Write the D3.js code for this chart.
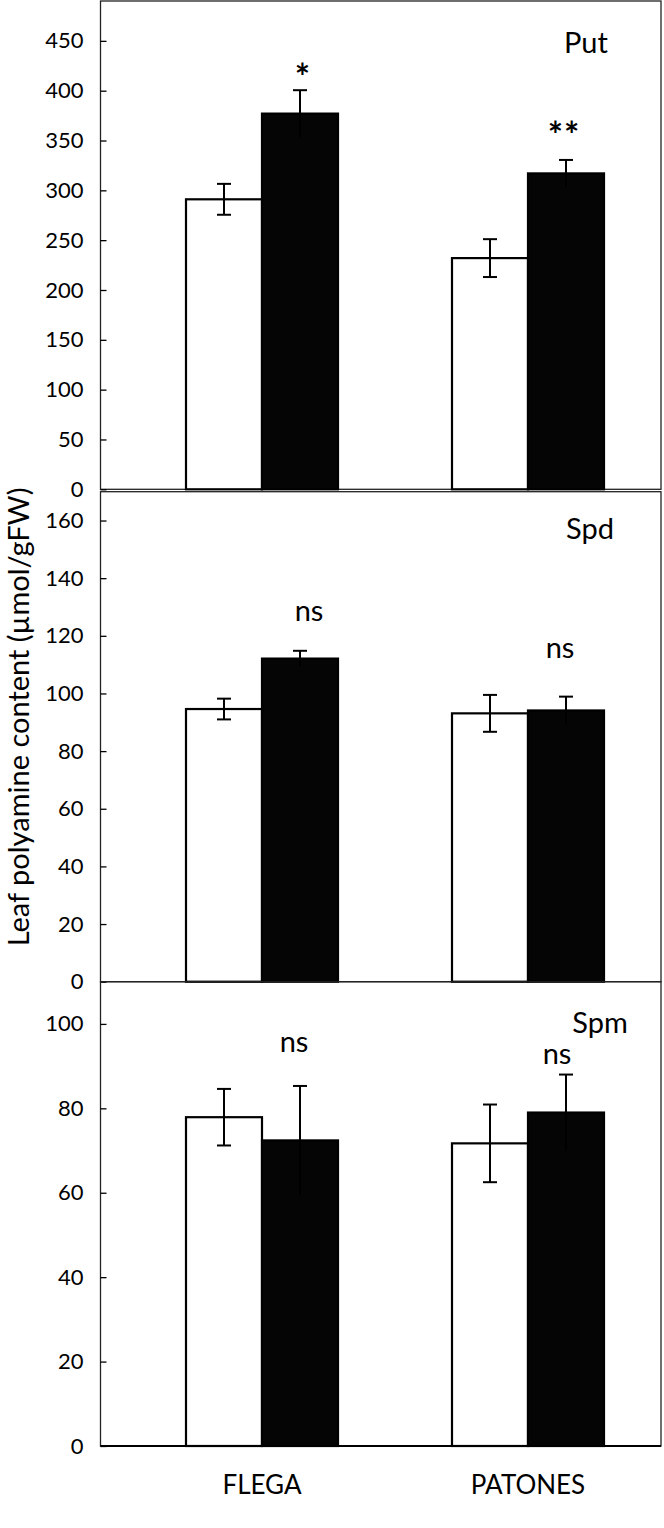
<!DOCTYPE html>
<html>
<head>
<meta charset="utf-8">
<script src="https://cdn.jsdelivr.net/npm/d3@7"></script>
<style>
  body { margin: 0; background: #fff; }
  text { font-family: Lato, "Open Sans", sans-serif; fill: #000; }
</style>
</head>
<body>
<div id="chart"></div>
<script>
// data
var categories = ['FLEGA', 'PATONES'];
var treatments = ['control', 'treated'];

var putControl = [291, 232];
var putControlErr = [15.5, 19];
var putTreated = [377, 317];
var putTreatedErr = [23.5, 13.5];
var putSig = ['*', '**'];
var putTicks = [0, 50, 100, 150, 200, 250, 300, 350, 400, 450];

var spdControl = [94.6, 93.1];
var spdControlErr = [3.6, 6.4];
var spdTreated = [112.1, 94.1];
var spdTreatedErr = [2.7, 4.8];
var spdSig = ['ns', 'ns'];
var spdTicks = [0, 20, 40, 60, 80, 100, 120, 140, 160];

var spmControl = [77.9, 71.7];
var spmControlErr = [6.7, 9.2];
var spmTreated = [72.4, 79.0];
var spmTreatedErr = [12.9, 9.0];
var spmSig = ['ns', 'ns'];
var spmTicks = [0, 20, 40, 60, 80, 100];

var yLabel = 'Leaf polyamine content (\u00b5mol/gFW)';

// layout
var width = 664, height = 1528;
var left = 100.5, right = 661;

var panels = [
	{name: 'Put', top: 1, bottom: 489.3, max: 490, ticks: putTicks,
	 control: putControl, controlErr: putControlErr, treated: putTreated, treatedErr: putTreatedErr,
	 sig: putSig, sigGap: [0, 12], sigDx: [3, -2], nameX: 586, nameY: 53},
	{name: 'Spd', top: 491.7, bottom: 981.7, max: 170, ticks: spdTicks,
	 control: spdControl, controlErr: spdControlErr, treated: spdTreated, treatedErr: spdTreatedErr,
	 sig: spdSig, sigGap: [30, 39], sigDx: [9, -6], nameX: 590, nameY: 539},
	{name: 'Spm', top: 981.7, bottom: 1446, max: 110, ticks: spmTicks,
	 control: spmControl, controlErr: spmControlErr, treated: spmTreated, treatedErr: spmTreatedErr,
	 sig: spmSig, sigGap: [34, 11], sigDx: [-6, -9], nameX: 600, nameY: 1033}
];

var svg = d3.select('#chart')
	.append('svg')
	.attr('width', width)
	.attr('height', height);

var x_scale = d3.scaleBand()
	.domain(categories)
	.range([129, 661])
	.padding(0);

var x_inner = d3.scaleBand()
	.domain(treatments)
	.range([57, 209])
	.padding(0);

panels.forEach(function(p, pi){
	var y_scale = d3.scaleLinear()
		.domain([0, p.max])
		.range([p.bottom, p.top]);

	var g = svg.append('g');

	// frame
	g.append('rect')
		.attr('x', left)
		.attr('y', p.top)
		.attr('width', right - left)
		.attr('height', p.bottom - p.top)
		.attr('fill', 'none')
		.attr('stroke', '#222')
		.attr('stroke-width', 1.3);

	// axis
	var y_axis = d3.axisLeft(y_scale)
		.tickValues(p.ticks)
		.tickSizeInner(-6)
		.tickSizeOuter(0)
		.tickPadding(17);
	var ax = g.append('g')
		.attr('transform', 'translate(' + left + ',0)')
		.call(y_axis);
	ax.select('.domain').remove();
	ax.selectAll('.tick line').attr('stroke', '#000').attr('stroke-width', 1.3);
	ax.selectAll('.tick text')
		.attr('font-size', 22)
		.attr('font-family', 'Lato, sans-serif')
		.attr('fill', '#000');

	// bars
	var rows = categories.map(function(c, i){
		return [
			{cat: c, t: 'control', v: p.control[i], e: p.controlErr[i]},
			{cat: c, t: 'treated', v: p.treated[i], e: p.treatedErr[i]}
		];
	});
	var flat = d3.merge(rows);

	g.selectAll('rect.bar')
		.data(flat)
		.enter()
		.append('rect')
		.attr('class', 'bar')
		.attr('x', function(d){ return x_scale(d.cat) + x_inner(d.t); })
		.attr('y', function(d){ return y_scale(d.v); })
		.attr('width', x_inner.bandwidth())
		.attr('height', function(d){ return y_scale(0) - y_scale(d.v); })
		.attr('fill', function(d){ return d.t == 'control' ? '#fff' : '#050505'; })
		.attr('stroke', '#000')
		.attr('stroke-width', 2.2);

	// error bars
	var eb = g.selectAll('g.err')
		.data(flat)
		.enter()
		.append('g')
		.attr('class', 'err')
		.attr('stroke', '#000')
		.attr('stroke-width', 2);
	eb.append('line')
		.attr('x1', function(d){ return x_scale(d.cat) + x_inner(d.t) + x_inner.bandwidth() / 2; })
		.attr('x2', function(d){ return x_scale(d.cat) + x_inner(d.t) + x_inner.bandwidth() / 2; })
		.attr('y1', function(d){ return y_scale(d.v - d.e); })
		.attr('y2', function(d){ return y_scale(d.v + d.e); });
	eb.append('line')
		.attr('x1', function(d){ return x_scale(d.cat) + x_inner(d.t) + x_inner.bandwidth() / 2 - 7; })
		.attr('x2', function(d){ return x_scale(d.cat) + x_inner(d.t) + x_inner.bandwidth() / 2 + 7; })
		.attr('y1', function(d){ return y_scale(d.v + d.e); })
		.attr('y2', function(d){ return y_scale(d.v + d.e); });
	eb.filter(function(d){ return d.t == 'control'; })
		.append('line')
		.attr('x1', function(d){ return x_scale(d.cat) + x_inner(d.t) + x_inner.bandwidth() / 2 - 7; })
		.attr('x2', function(d){ return x_scale(d.cat) + x_inner(d.t) + x_inner.bandwidth() / 2 + 7; })
		.attr('y1', function(d){ return y_scale(d.v - d.e); })
		.attr('y2', function(d){ return y_scale(d.v - d.e); });

	// significance labels over the treated bars
	g.selectAll('text.sig')
		.data(rows)
		.enter()
		.append('text')
		.attr('class', 'sig')
		.text(function(d, i){ return p.sig[i]; })
		.attr('x', function(d, i){ return x_scale(d[1].cat) + x_inner('treated') + x_inner.bandwidth() / 2 + p.sigDx[i]; })
		.attr('y', function(d, i){ return y_scale(d[1].v + d[1].e) - p.sigGap[i]; })
		.attr('text-anchor', 'middle')
		.attr('font-size', function(d, i){ return p.sig[i] == 'ns' ? 29 : 36; })
		.attr('font-weight', function(d, i){ return p.sig[i] == 'ns' ? 'normal' : 'bold'; })
		.attr('letter-spacing', function(d, i){ return p.sig[i] == 'ns' ? 0 : 1; });

	// panel name
	g.append('text')
		.text(p.name)
		.attr('x', p.nameX)
		.attr('y', p.nameY)
		.attr('text-anchor', 'middle')
		.attr('font-size', 29);
});

// bottom axis line
svg.append('line')
	.attr('x1', left)
	.attr('x2', right)
	.attr('y1', 1446)
	.attr('y2', 1446)
	.attr('stroke', '#000')
	.attr('stroke-width', 2);

// category labels
svg.append('g').selectAll('text')
	.data(categories)
	.enter()
	.append('text')
	.text(function(d){ return d; })
	.attr('x', function(d){ return x_scale(d) + x_scale.bandwidth() / 2; })
	.attr('y', 1494)
	.attr('text-anchor', 'middle')
	.attr('font-size', 26);

// y label
svg.append('text')
	.text(yLabel)
	.attr('transform', 'translate(29,717) rotate(-90)')
	.attr('text-anchor', 'middle')
	.attr('font-size', 29);
</script>
</body>
</html>
